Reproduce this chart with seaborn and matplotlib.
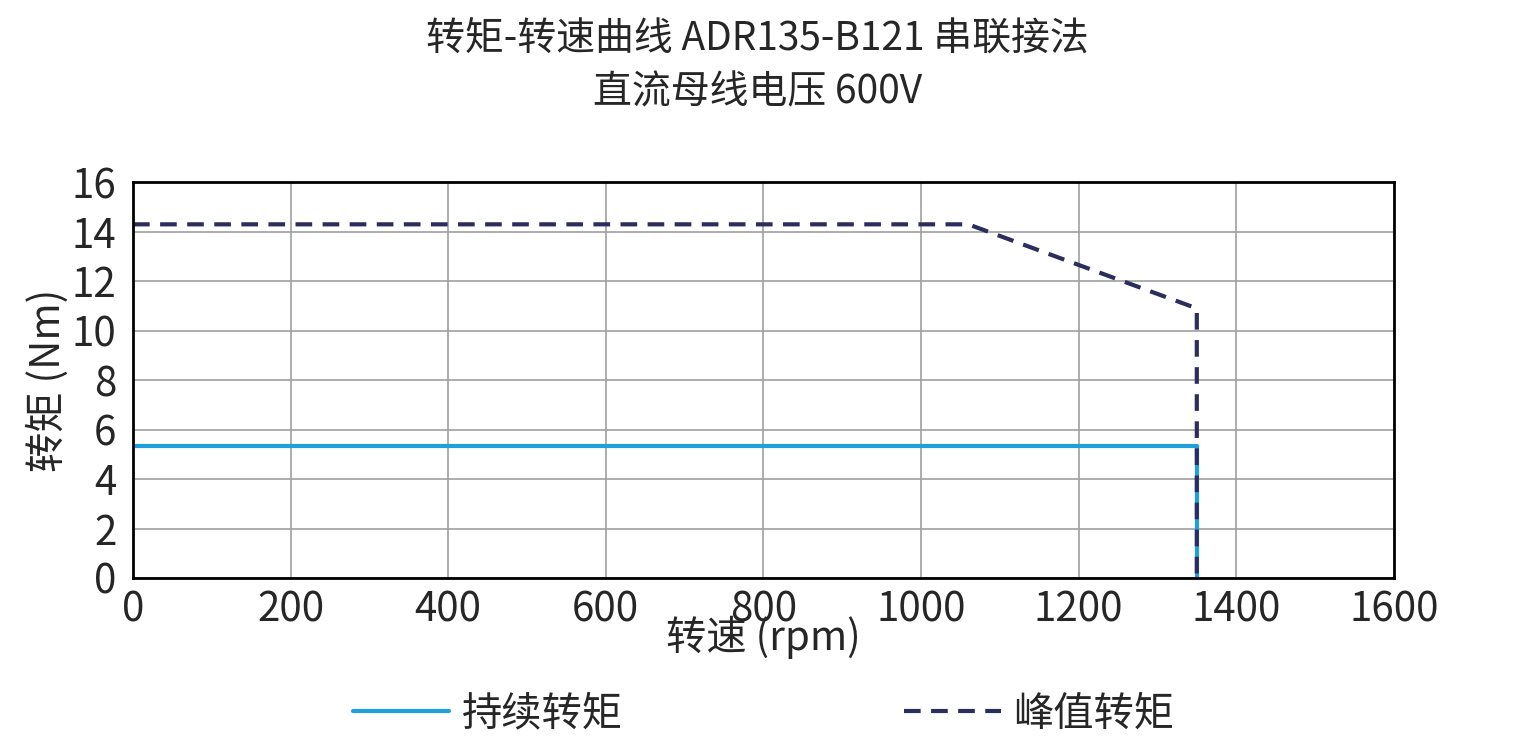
import matplotlib
matplotlib.use("Agg")
import matplotlib.pyplot as plt
import seaborn as sns
import pandas as pd

sns.set_theme(style="whitegrid")
plt.rcParams['font.family'] = ['Noto Sans CJK SC', 'DejaVu Sans']

cont_speed = [0, 1350, 1350]
cont_torque = [5.33, 5.33, 0]
peak_speed = [0, 1060, 1350, 1350]
peak_torque = [14.3, 14.3, 10.9, 0]

df = pd.concat([
    pd.DataFrame({"speed": cont_speed, "torque": cont_torque, "s": "持续转矩", "o": range(3)}),
    pd.DataFrame({"speed": peak_speed, "torque": peak_torque, "s": "峰值转矩", "o": range(4)}),
])

fig = plt.figure(figsize=(15.15, 7.41), dpi=100)
ax = fig.add_axes([0.0878, 0.22, 0.8322, 0.534])
for name, color, ls in [("持续转矩", "#1ea0dc", "-"), ("峰值转矩", "#2b2d5c", (0, (4, 2.5)))]:
    sub = df[df.s == name]
    sns.lineplot(data=sub, x="speed", y="torque", sort=False, ax=ax, color=color,
                 linestyle=ls, linewidth=3, label=name, estimator=None)
ax.set_xlim(0, 1600)
ax.set_ylim(0, 16)
ax.set_xticks(range(0, 1601, 200))
ax.set_yticks(range(0, 17, 2))
ax.tick_params(labelsize=29, length=0)
ax.tick_params(axis="x", pad=8)
ax.tick_params(axis="y", pad=12)
ax.grid(color="#a0a0a0", linewidth=1.2)
for s in ax.spines.values():
    s.set_color("black"); s.set_linewidth(2)
ax.set_xlabel("转速 (rpm)", fontsize=29, labelpad=-10)
ax.set_ylabel("转矩 (Nm)", fontsize=29, labelpad=2)
fig.suptitle("转矩-转速曲线 ADR135-B121 串联接法\n直流母线电压 600V", fontsize=28, y=0.975, linespacing=1.45)
ax.legend(loc="upper center", bbox_to_anchor=(0.5, -0.2), ncol=2, frameon=False,
          fontsize=29, columnspacing=7, handlelength=2.4, handletextpad=0.3)
fig.savefig("out.png", dpi=100)
